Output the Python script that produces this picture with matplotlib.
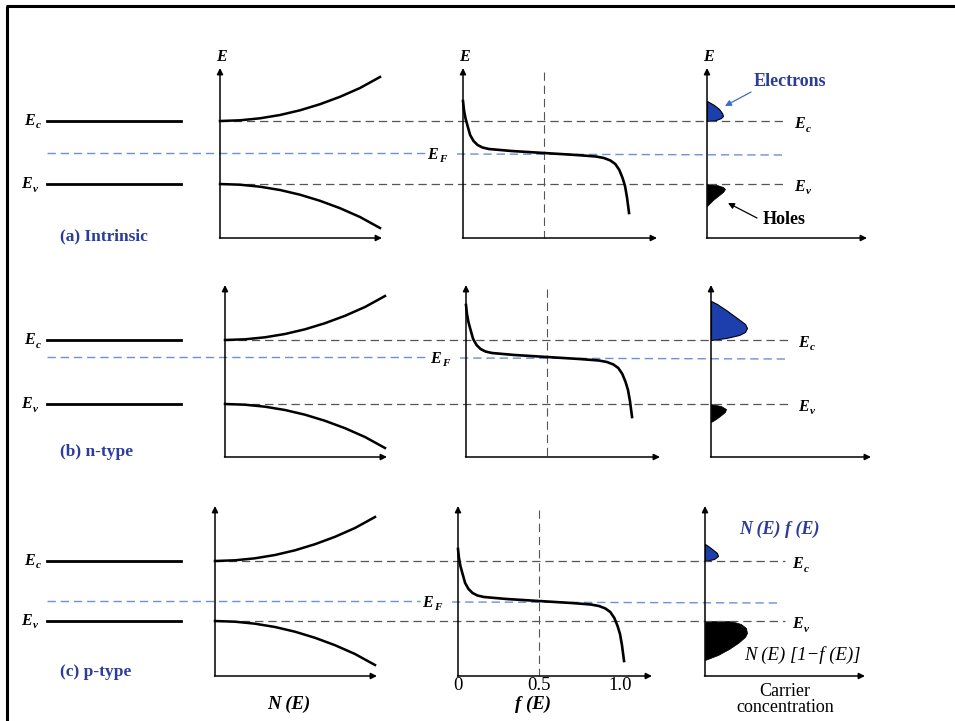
import numpy as np
import matplotlib.pyplot as plt

plt.rcParams['font.family'] = ['Liberation Serif', 'DejaVu Serif']
plt.rcParams['lines.scale_dashes'] = False

BLUE = '#2b3c9b'
FILL_BLUE = '#1d3fae'
DASH_BLUE = '#6f8fd6'
GRAY = '#555555'

# rows (a) intrinsic, (b) n-type, (c) p-type  -- picture pixel coordinates
row_labels = ['(a) Intrinsic', '(b) n-type', '(c) p-type']
label_y = [236, 452, 672]
ec_levels = [121, 340, 561]
ev_levels = [184, 404, 621]
ef_levels = [153, 357, 601]
axis_bottom = [238, 457, 676]
axis_top = [68, 285, 506]
dos_x = [220, 225, 215]
fermi_x = [463, 466, 458]
carrier_x = [707, 711, 705]

# density of states: distance along N axis vs distance from band edge
dos_n = [0, 20, 40, 60, 80, 100, 120, 140, 160]
dos_de = [0, 0.7, 2.7, 6, 10.7, 16.8, 24.2, 33, 44]

# Fermi function: f vs (E - EF)
fermi_f = [0, 0.006, 0.015, 0.025, 0.044, 0.065, 0.09, 0.12, 0.16, 0.3, 0.5,
           0.7, 0.82, 0.87, 0.91, 0.94, 0.965, 0.985, 1.0, 1.012, 1.025]
fermi_de = [52, 43, 35, 29, 18, 12, 8, 5.5, 4, 2, 0,
            -2, -3.5, -5, -7.5, -11, -17, -25, -33, -44, -60]
f_ticks = [0, 0.5, 1.0]
f_tick_labels = ['0', '0.5', '1.0']

# carrier concentration: height from band edge vs width
elec_h = [[0, 1, 3, 5, 8, 12, 16, 20],
          [0, 2, 5, 8, 12, 16, 22, 30, 36, 39],
          [0, 2, 5, 8, 12, 15, 17]]
elec_w = [[0, 9, 14, 16, 15, 12, 7, 0],
          [0, 15, 28, 34, 36, 34, 26, 15, 6, 0],
          [0, 9, 13, 12, 7, 3, 0]]
hole_h = [[0, 1, 3, 5, 8, 12, 16, 22],
          [0, 2, 5, 8, 12, 15, 18],
          [0, 3, 7, 12, 16, 22, 28, 34, 39]]
hole_w = [[0, 10, 16, 18, 16, 11, 6, 0],
          [0, 10, 15, 14, 9, 5, 0],
          [26, 36, 41, 42, 40, 33, 24, 13, 0]]

fig = plt.figure(figsize=(9.55, 7.21), dpi=100)
ax = fig.add_axes([0, 0, 1, 1])
ax.set_xlim(0, 955)
ax.set_ylim(721, 0)
ax.axis('off')

# frame
ax.plot([7, 7], [6, 721], color='k', lw=2.2, solid_capstyle='butt')
ax.plot([6, 955], [6, 6], color='k', lw=2.2, solid_capstyle='butt')


def arrow_axes(x0, y0, top, right):
    ax.annotate('', xy=(x0, top), xytext=(x0, y0),
                arrowprops=dict(arrowstyle='-|>', lw=1.1, color='k',
                                mutation_scale=9, shrinkA=0, shrinkB=0))
    ax.annotate('', xy=(right, y0), xytext=(x0 - 0.5, y0),
                arrowprops=dict(arrowstyle='-|>', lw=1.1, color='k',
                                mutation_scale=9, shrinkA=0, shrinkB=0))


def energy_label(x, y, sub, size=11.5, color='k'):
    ax.text(x, y, 'E', fontsize=size, style='italic', weight='bold',
            ha='left', va='center', color=color)
    ax.text(x + 12, y + 5, sub, fontsize=size * 0.7, style='italic',
            weight='bold', ha='left', va='center', color=color)


for i in range(3):
    ec, ev, ef = ec_levels[i], ev_levels[i], ef_levels[i]
    xb = axis_bottom[i]

    # band diagram
    ax.plot([47, 181], [ec, ec], color='k', lw=2.0)
    ax.plot([47, 181], [ev, ev], color='k', lw=2.0)
    energy_label(24, ec, 'c')
    energy_label(21, ev, 'v')
    ax.text(60, label_y[i], row_labels[i], fontsize=12.5, weight='bold',
            color=BLUE, ha='left', va='center')

    # dashed reference lines
    end = carrier_x[i] + 80
    for lev in (ec, ev):
        ax.plot([dos_x[i], end], [lev, lev], color=GRAY, lw=0.9,
                dashes=(6, 3.5))
    efx = fermi_x[i] - 36
    ax.plot([47, efx - 2], [ef, ef], color=DASH_BLUE, lw=1.0, dashes=(6, 3.5))
    ax.plot([fermi_x[i] - 6, carrier_x[i] + 76], [ef + 1, ef + 2],
            color=DASH_BLUE, lw=1.0, dashes=(6, 3.5))
    energy_label(efx, ef + 2, 'F')
    energy_label(carrier_x[i] + 87, ec + 3, 'c')
    energy_label(carrier_x[i] + 87, ev + 3, 'v')

    # density of states panel
    arrow_axes(dos_x[i], xb, axis_top[i], dos_x[i] + 162)
    xs = np.array(dos_n) + dos_x[i]
    ax.plot(xs, ec - np.array(dos_de), color='k', lw=1.8)
    ax.plot(xs, ev + np.array(dos_de), color='k', lw=1.8)

    # Fermi function panel
    fx = fermi_x[i]
    arrow_axes(fx, xb, axis_top[i], fx + 194)
    ax.plot([fx + 0.5 * 162] * 2, [axis_top[i] + 4, xb], color=GRAY, lw=0.8,
            dashes=(6, 3.5))
    ax.plot(fx + np.array(fermi_f) * 162, ef - np.array(fermi_de),
            color='k', lw=1.9)

    # carrier concentration panel
    cx = carrier_x[i]
    arrow_axes(cx, xb, axis_top[i], cx + 160)
    ye = ec - np.array(elec_h[i])
    ax.fill_betweenx(ye, cx, cx + np.array(elec_w[i]), color=FILL_BLUE,
                     edgecolor='k', lw=0.8)
    yh = ev + np.array(hole_h[i])
    ax.fill_betweenx(yh, cx, cx + np.array(hole_w[i]), color='k', lw=0.5)

# axis "E" labels on top row
for x in (dos_x[0], fermi_x[0], carrier_x[0]):
    ax.text(x + 1, 57, 'E', fontsize=11.5, style='italic', weight='bold',
            ha='center', va='center')

# annotations of row (a)
ax.text(790, 82, 'Electrons', fontsize=13, weight='bold', color=BLUE,
        ha='center', va='center')
ax.annotate('', xy=(725, 106), xytext=(751, 92),
            arrowprops=dict(arrowstyle='-|>', lw=0.9, color='#3a6fc4',
                            mutation_scale=9, shrinkA=0, shrinkB=0))
ax.text(784, 219, 'Holes', fontsize=13, weight='bold', color='k',
        ha='center', va='center')
ax.annotate('', xy=(728, 203), xytext=(757, 218),
            arrowprops=dict(arrowstyle='-|>', lw=0.9, color='k',
                            mutation_scale=9, shrinkA=0, shrinkB=0))

# annotations of row (c)
ax.text(779, 529, 'N (E) f (E)', fontsize=13, style='italic', weight='bold',
        color=BLUE, ha='center', va='center')
ax.text(802, 655, 'N (E) [1\u2212f (E)]', fontsize=13.5, style='italic',
        ha='center', va='center')

# bottom labels
for f, lab in zip(f_ticks, f_tick_labels):
    ax.text(fermi_x[2] + f * 162, 686, lab, fontsize=13.5, ha='center',
            va='center')
ax.text(289, 704, 'N (E)', fontsize=13.5, style='italic', weight='bold',
        ha='center', va='center')
ax.text(fermi_x[2] + 0.46 * 162, 704, 'f (E)', fontsize=13.5, style='italic',
        weight='bold', ha='center', va='center')
ax.text(785, 692, 'Carrier', fontsize=13, ha='center', va='center')
ax.text(785, 708, 'concentration', fontsize=13, ha='center', va='center')

fig.savefig('out.png', dpi=100)
